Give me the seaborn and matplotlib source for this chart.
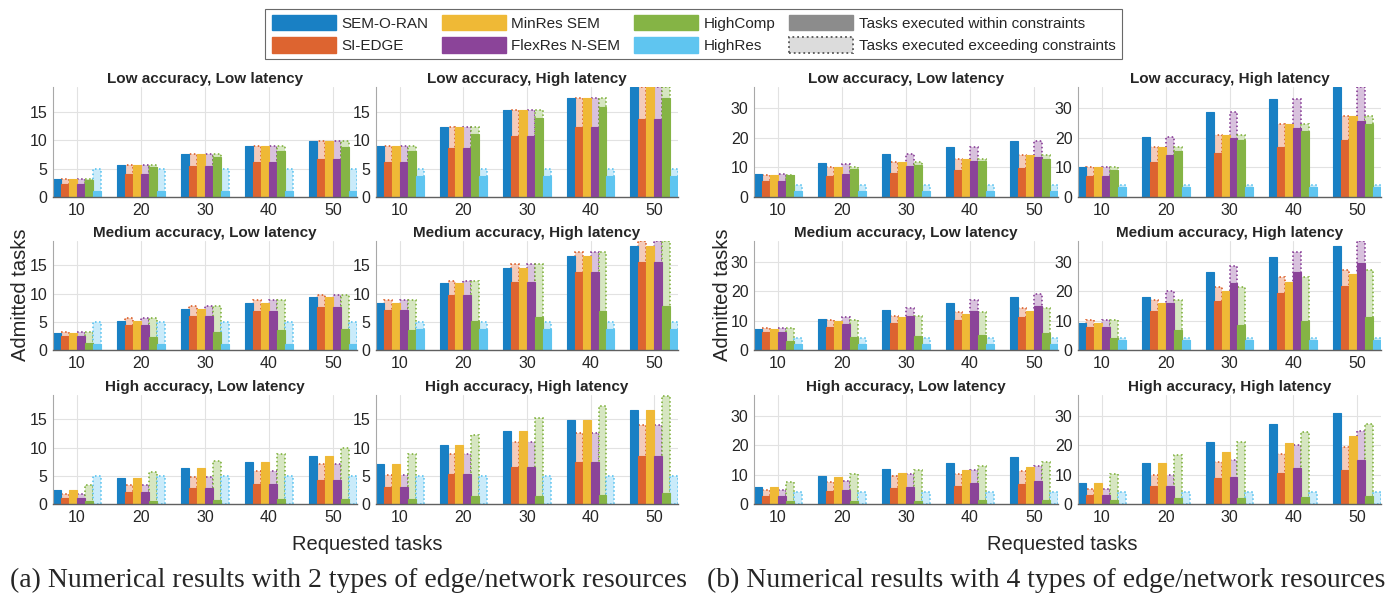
import numpy as np
import pandas as pd
import matplotlib
matplotlib.use("Agg")
import matplotlib.pyplot as plt
from matplotlib.patches import Patch
import seaborn as sns

requested = [10, 20, 30, 40, 50]
methods = ["SEM-O-RAN", "SI-EDGE", "MinRes SEM", "FlexRes N-SEM", "HighComp", "HighRes"]
base_colors = ["#0072BD", "#D95319", "#EDB120", "#7E2F8E", "#77AC30", "#4DBEEE"]

# rows follow `methods`, columns follow `requested`
# total = all admitted tasks, within = tasks executed within constraints

# (a) 2 types of edge/network resources
a_ll_total = [[3.2, 5.7, 7.6, 8.9, 9.9], [3.2, 5.7, 7.6, 8.9, 9.9], [3.2, 5.7, 7.6, 8.9, 9.9],
              [3.2, 5.7, 7.6, 8.9, 9.9], [3.2, 5.7, 7.6, 8.9, 9.9], [5.0, 5.0, 5.0, 5.0, 5.0]]
a_ll_within = [[3.2, 5.7, 7.6, 8.9, 9.9], [2.2, 4.1, 5.4, 6.1, 6.7], [3.2, 5.7, 7.6, 8.9, 9.9],
               [2.2, 4.1, 5.4, 6.1, 6.7], [3.0, 5.25, 7.0, 8.0, 8.8], [1.1, 1.1, 1.1, 1.1, 1.1]]

a_lh_total = [[8.9, 12.3, 15.2, 17.4, 19.3], [8.9, 12.3, 15.2, 17.4, 19.3], [8.9, 12.3, 15.2, 17.4, 19.3],
              [8.9, 12.3, 15.2, 17.4, 19.3], [8.9, 12.3, 15.2, 17.4, 19.3], [5.0, 5.0, 5.0, 5.0, 5.0]]
a_lh_within = [[8.9, 12.3, 15.2, 17.4, 19.3], [6.2, 8.6, 10.7, 12.2, 13.7], [8.9, 12.3, 15.2, 17.4, 19.3],
               [6.2, 8.6, 10.7, 12.2, 13.7], [8.0, 11.1, 13.8, 15.8, 17.4], [3.6, 3.6, 3.6, 3.6, 3.6]]

a_ml_total = [[2.95, 5.2, 7.2, 8.4, 9.3], [3.1, 5.7, 7.75, 8.9, 9.8], [2.95, 5.2, 7.2, 8.4, 9.3],
              [3.1, 5.7, 7.75, 8.9, 9.8], [3.1, 5.7, 7.75, 8.9, 9.8], [5.0, 5.0, 5.0, 5.0, 5.0]]
a_ml_within = [[2.95, 5.2, 7.2, 8.4, 9.3], [2.5, 4.5, 6.0, 6.9, 7.65], [2.95, 5.2, 7.2, 8.4, 9.3],
               [2.5, 4.5, 6.0, 6.9, 7.65], [1.3, 2.35, 3.1, 3.5, 3.8], [1.0, 1.0, 1.0, 1.0, 1.0]]

a_mh_total = [[8.4, 11.8, 14.6, 16.6, 18.5], [8.9, 12.2, 15.2, 17.4, 19.3], [8.4, 11.8, 14.6, 16.6, 18.5],
              [8.9, 12.2, 15.2, 17.4, 19.3], [8.9, 12.2, 15.2, 17.4, 19.3], [5.0, 5.0, 5.0, 5.0, 5.0]]
a_mh_within = [[8.4, 11.8, 14.6, 16.6, 18.5], [7.1, 9.7, 12.1, 13.8, 15.5], [8.4, 11.8, 14.6, 16.6, 18.5],
               [7.1, 9.7, 12.1, 13.8, 15.5], [3.5, 5.1, 5.9, 6.9, 7.8], [3.75, 3.75, 3.75, 3.75, 3.75]]

a_hl_total = [[2.45, 4.55, 6.3, 7.5, 8.5], [1.75, 3.35, 4.8, 5.8, 7.0], [2.45, 4.55, 6.3, 7.5, 8.5],
              [1.75, 3.35, 4.8, 5.8, 7.0], [3.3, 5.7, 7.7, 8.9, 9.9], [5.0, 5.0, 5.0, 5.0, 5.0]]
a_hl_within = [[2.45, 4.55, 6.3, 7.5, 8.5], [1.1, 2.05, 2.8, 3.55, 4.2], [2.45, 4.55, 6.3, 7.5, 8.5],
               [1.1, 2.05, 2.8, 3.55, 4.2], [0.45, 0.6, 0.75, 0.8, 0.95], [0, 0, 0, 0, 0]]

a_hh_total = [[7.0, 10.5, 13.0, 14.9, 16.6], [5.1, 8.9, 11.05, 12.6, 14.0], [7.0, 10.5, 13.0, 14.9, 16.6],
              [5.1, 8.9, 11.05, 12.6, 14.0], [8.9, 12.25, 15.2, 17.35, 19.15], [5.0, 5.0, 5.0, 5.0, 5.0]]
a_hh_within = [[7.0, 10.5, 13.0, 14.9, 16.6], [3.05, 5.3, 6.55, 7.5, 8.5], [7.0, 10.5, 13.0, 14.9, 16.6],
               [3.05, 5.3, 6.55, 7.5, 8.5], [0.95, 1.35, 1.45, 1.65, 2.0], [0, 0, 0, 0, 0]]

# (b) 4 types of edge/network resources
b_ll_total = [[7.9, 11.35, 14.5, 17.0, 18.9], [7.5, 10.1, 11.7, 12.7, 14.2], [7.5, 10.1, 11.7, 12.7, 14.2],
              [7.75, 11.2, 14.5, 17.0, 18.9], [7.5, 10.1, 11.7, 12.7, 14.2], [4.2, 4.2, 4.2, 4.2, 4.2]]
b_ll_within = [[7.9, 11.35, 14.5, 17.0, 18.9], [5.4, 7.1, 8.2, 9.0, 9.9], [7.5, 10.1, 11.7, 12.7, 14.2],
               [5.4, 7.9, 10.3, 12.0, 13.4], [7.3, 9.3, 10.7, 12.0, 12.7], [1.9, 1.9, 1.9, 1.9, 1.9]]

b_lh_total = [[10.1, 20.2, 28.65, 33.1, 37.1], [10.1, 17.0, 21.0, 24.5, 27.3], [10.1, 17.0, 21.0, 24.5, 27.3],
              [10.1, 20.2, 28.65, 33.1, 37.1], [10.1, 17.0, 21.0, 24.5, 27.3], [4.2, 4.2, 4.2, 4.2, 4.2]]
b_lh_within = [[10.1, 20.2, 28.65, 33.1, 37.1], [7.0, 11.8, 14.7, 16.9, 19.1], [10.1, 17.0, 21.0, 24.5, 27.3],
               [7.0, 14.3, 20.0, 23.3, 25.8], [9.0, 15.4, 19.1, 22.1, 24.5], [3.4, 3.4, 3.4, 3.4, 3.4]]

b_ml_total = [[7.15, 10.5, 13.6, 15.85, 17.9], [7.4, 10.1, 11.55, 12.8, 14.2], [7.15, 9.85, 11.1, 12.2, 13.25],
              [7.4, 11.1, 14.4, 16.9, 18.9], [7.4, 10.1, 11.55, 12.8, 14.2], [4.2, 4.2, 4.2, 4.2, 4.2]]
b_ml_within = [[7.15, 10.5, 13.6, 15.85, 17.9], [6.0, 7.9, 9.3, 10.3, 11.3], [7.15, 9.85, 11.1, 12.2, 13.25],
               [6.0, 8.95, 11.55, 13.25, 15.05], [3.1, 4.3, 4.6, 5.1, 5.8], [1.9, 1.9, 1.9, 1.9, 1.9]]

b_mh_total = [[9.3, 18.2, 26.7, 31.8, 35.4], [10.1, 16.9, 21.3, 24.7, 27.3], [9.3, 16.1, 20.0, 23.2, 26.0],
              [10.1, 20.2, 28.65, 33.3, 37.1], [10.1, 16.9, 21.3, 24.7, 27.3], [4.2, 4.2, 4.2, 4.2, 4.2]]
b_mh_within = [[9.3, 18.2, 26.7, 31.8, 35.4], [7.9, 13.4, 16.8, 19.4, 21.8], [9.3, 16.1, 20.0, 23.2, 26.0],
               [7.9, 16.1, 22.8, 26.5, 29.7], [4.2, 6.8, 8.5, 10.0, 11.1], [3.3, 3.3, 3.3, 3.3, 3.3]]

b_hl_total = [[5.9, 9.5, 12.0, 14.0, 15.9], [4.7, 7.6, 9.5, 10.3, 11.2], [5.8, 9.2, 10.7, 11.5, 12.5],
              [4.7, 7.7, 10.1, 11.5, 13.1], [7.6, 10.1, 11.5, 12.8, 14.2], [4.2, 4.2, 4.2, 4.2, 4.2]]
b_hl_within = [[5.9, 9.5, 12.0, 14.0, 15.9], [2.8, 4.5, 5.6, 6.1, 6.8], [5.8, 9.2, 10.7, 11.5, 12.5],
               [2.8, 4.7, 5.8, 7.0, 7.9], [0.9, 1.1, 1.1, 1.2, 1.45], [0, 0, 0, 0, 0]]

b_hh_total = [[7.0, 14.1, 21.0, 27.2, 31.0], [5.0, 9.9, 14.4, 17.1, 19.3], [7.0, 13.9, 17.8, 20.9, 23.0],
              [5.0, 9.9, 15.0, 20.2, 24.8], [10.1, 16.8, 21.0, 24.4, 27.2], [4.2, 4.2, 4.2, 4.2, 4.2]]
b_hh_within = [[7.0, 14.1, 21.0, 27.2, 31.0], [3.1, 6.1, 8.8, 10.4, 11.7], [7.0, 13.9, 17.8, 20.9, 23.0],
               [3.1, 6.1, 9.05, 12.1, 14.9], [1.3, 2.0, 2.2, 2.35, 2.8], [0, 0, 0, 0, 0]]

titles = ["Low accuracy, Low latency", "Low accuracy, High latency",
          "Medium accuracy, Low latency", "Medium accuracy, High latency",
          "High accuracy, Low latency", "High accuracy, High latency"]


def blend(hex_color, alpha):
    rgb = np.array(matplotlib.colors.to_rgb(hex_color))
    return tuple(rgb * alpha + (1 - alpha))


solid = [blend(c, 0.9) for c in base_colors]
light = [blend(c, 0.3) for c in base_colors]

sns.set_style("white")
plt.rcParams["font.family"] = ["Liberation Sans", "DejaVu Sans"]

W, H = 1397, 597
fig = plt.figure(figsize=(W / 100, H / 100), dpi=100)


def px_rect(x0, x1, y0, y1):
    return [x0 / W, 1 - y1 / H, (x1 - x0) / W, (y1 - y0) / H]


def draw_panel(ax, title, total, within, ymax, yticks):
    df = pd.DataFrame({
        "requested": np.tile(requested, len(methods)),
        "method": np.repeat(methods, len(requested)),
        "total": np.ravel(total),
        "within": np.ravel(within),
    })
    # light bars = all admitted tasks (the part above "within" exceeds constraints)
    sns.barplot(data=df, x="requested", y="total", hue="method", hue_order=methods,
                palette=light, saturation=1, width=0.75, errorbar=None,
                legend=False, ax=ax)
    for cont, col, t_row, w_row in zip(ax.containers, base_colors, total, within):
        for bar, t, w in zip(cont, t_row, w_row):
            if t - w > 1e-6:
                bar.set_edgecolor(col)
                bar.set_linestyle(":")
                bar.set_linewidth(1.1)
            else:
                bar.set_linewidth(0)
    n_before = len(ax.containers)
    sns.barplot(data=df, x="requested", y="within", hue="method", hue_order=methods,
                palette=solid, saturation=1, width=0.75, errorbar=None,
                legend=False, ax=ax)
    for cont, col in zip(ax.containers[n_before:], solid):
        for bar in cont:
            bar.set_edgecolor(col)
            bar.set_linewidth(0.8)

    ax.set_xlim(-0.375, 4.375)
    ax.set_ylim(0, ymax)
    ax.set_yticks(yticks)
    ax.set_xlabel("")
    ax.set_ylabel("")
    ax.set_title(title, fontsize=11, fontweight="bold", pad=3)
    ax.grid(True, axis="both", color="#e2e2e2", linewidth=0.8)
    ax.set_axisbelow(True)
    for s in ["top", "right"]:
        ax.spines[s].set_visible(False)
    ax.spines["left"].set_color("#a8a8a8")
    ax.spines["left"].set_linewidth(0.8)
    ax.spines["bottom"].set_color("#606060")
    ax.spines["bottom"].set_linewidth(1.0)
    ax.tick_params(axis="both", length=0, labelsize=11.5, colors="#262626", pad=4)


panels_a = [(a_ll_total, a_ll_within), (a_lh_total, a_lh_within),
            (a_ml_total, a_ml_within), (a_mh_total, a_mh_within),
            (a_hl_total, a_hl_within), (a_hh_total, a_hh_within)]
panels_b = [(b_ll_total, b_ll_within), (b_lh_total, b_lh_within),
            (b_ml_total, b_ml_within), (b_mh_total, b_mh_within),
            (b_hl_total, b_hl_within), (b_hh_total, b_hh_within)]

cols_a = [(53, 357), (376, 678)]
cols_b = [(754, 1058), (1078, 1381)]
rows = [(87, 197), (241, 350), (395, 504)]

for panels, cols, ymax, yticks in [(panels_a, cols_a, 19.3, [0, 5, 10, 15]),
                                   (panels_b, cols_b, 37.1, [0, 10, 20, 30])]:
    for i, (tot, wit) in enumerate(panels):
        r, c = divmod(i, 2)
        ax = fig.add_axes(px_rect(cols[c][0], cols[c][1], rows[r][0], rows[r][1]))
        draw_panel(ax, titles[i], tot, wit, ymax, yticks)

# shared labels
for xc in [21, 722]:
    fig.text(xc / W, 1 - 295 / H, "Admitted tasks", rotation=90, ha="center", va="center",
             fontsize=14.5, color="#262626")
for xc in [367, 1062]:
    fig.text(xc / W, 1 - 545 / H, "Requested tasks", ha="center", va="center",
             fontsize=14.5, color="#262626")

fig.text(348 / W, 1 - 580 / H, "(a) Numerical results with 2 types of edge/network resources",
         ha="center", va="center", fontsize=20, family="Liberation Serif")
fig.text(1046 / W, 1 - 580 / H, "(b) Numerical results with 4 types of edge/network resources",
         ha="center", va="center", fontsize=20, family="Liberation Serif")

handles = [Patch(facecolor=solid[i], edgecolor=solid[i]) for i in range(len(methods))]
handles += [Patch(facecolor="#8c8c8c", edgecolor="#8c8c8c"),
            Patch(facecolor="#dcdcdc", edgecolor="#555555", linestyle=":", linewidth=1.3)]
labels = methods + ["Tasks executed within constraints", "Tasks executed exceeding constraints"]
leg = fig.legend(handles, labels, ncol=4, loc="center", bbox_to_anchor=(693.5 / W, 1 - 34 / H),
                 frameon=True, fancybox=False, edgecolor="#444444", fontsize=11,
                 handlelength=4.2, handleheight=1.18, columnspacing=0.9, handletextpad=0.35,
                 borderpad=0.4, labelspacing=0.45)
leg.get_frame().set_linewidth(0.8)

fig.savefig("out.png", dpi=100)
